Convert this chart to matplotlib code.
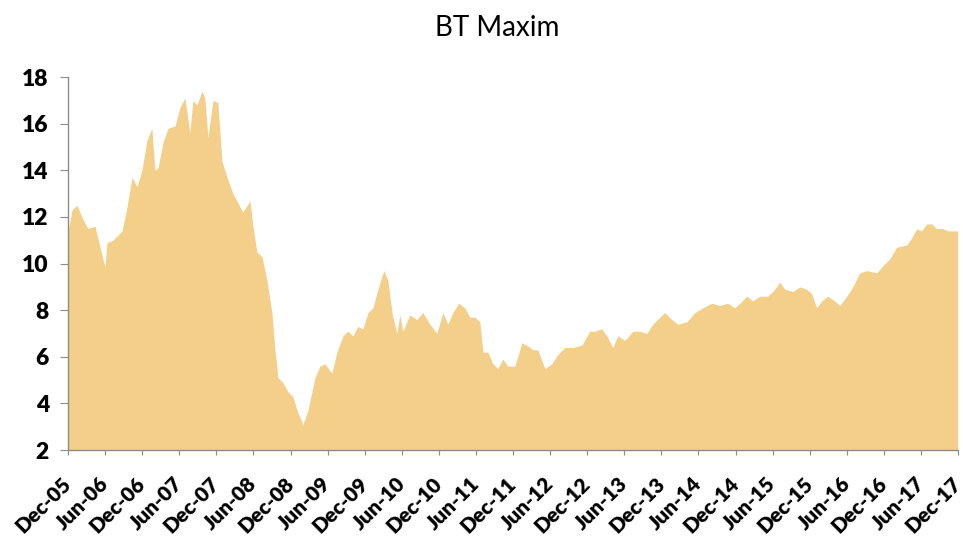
import matplotlib

matplotlib.use("Agg")
import matplotlib.dates as mdates
import matplotlib.pyplot as plt
import pandas as pd

plt.rcParams["font.family"] = ["Lato", "DejaVu Sans"]

# share price, roughly every few weeks
dates = [
    "2005-12-01", "2005-12-21", "2006-01-14", "2006-02-13", "2006-03-09", "2006-04-13",
    "2006-05-08", "2006-06-01", "2006-06-11", "2006-07-10", "2006-08-24", "2006-09-17",
    "2006-10-12", "2006-11-06", "2006-11-30", "2006-12-25", "2007-01-18", "2007-02-02",
    "2007-02-17", "2007-03-14", "2007-04-07", "2007-05-12", "2007-06-05", "2007-06-30",
    "2007-07-24", "2007-08-08", "2007-08-28", "2007-09-22", "2007-10-06", "2007-10-21",
    "2007-11-15", "2007-12-09", "2007-12-29", "2008-01-23", "2008-02-21", "2008-03-17",
    "2008-04-10", "2008-05-15", "2008-05-30", "2008-06-18", "2008-07-13", "2008-08-06",
    "2008-08-31", "2008-09-15", "2008-09-30", "2008-10-24", "2008-11-18", "2008-12-12",
    "2009-01-06", "2009-01-31", "2009-02-24", "2009-03-31", "2009-04-24", "2009-05-19",
    "2009-06-13", "2009-06-22", "2009-07-17", "2009-08-16", "2009-09-09", "2009-10-04",
    "2009-10-28", "2009-11-22", "2009-12-17", "2010-01-10", "2010-02-04", "2010-03-05",
    "2010-03-25", "2010-04-14", "2010-05-08", "2010-05-23", "2010-06-07", "2010-07-11",
    "2010-08-15", "2010-09-13", "2010-10-18", "2010-11-21", "2010-12-21", "2011-01-14",
    "2011-02-08", "2011-03-09", "2011-04-08", "2011-05-03", "2011-05-27", "2011-06-21",
    "2011-07-06", "2011-07-30", "2011-08-24", "2011-09-17", "2011-10-12", "2011-11-06",
    "2011-12-10", "2012-01-14", "2012-02-07", "2012-03-08", "2012-04-01", "2012-05-06",
    "2012-06-09", "2012-07-09", "2012-08-12", "2012-09-21", "2012-11-04", "2012-12-13",
    "2013-01-07", "2013-02-10", "2013-03-07", "2013-04-05", "2013-04-30", "2013-06-04",
    "2013-07-13", "2013-08-16", "2013-09-20", "2013-10-19", "2013-12-17", "2014-01-21",
    "2014-02-19", "2014-04-05", "2014-05-14", "2014-06-22", "2014-08-06", "2014-09-14",
    "2014-10-23", "2014-11-27", "2014-12-22", "2015-01-25", "2015-02-24", "2015-03-30",
    "2015-05-08", "2015-06-12", "2015-07-06", "2015-07-31", "2015-09-08", "2015-10-13",
    "2015-11-16", "2015-12-11", "2016-01-04", "2016-01-29", "2016-02-28", "2016-04-02",
    "2016-04-27", "2016-05-31", "2016-06-30", "2016-08-03", "2016-09-07", "2016-10-26",
    "2016-11-24", "2016-12-29", "2017-02-01", "2017-03-23", "2017-04-16", "2017-05-11",
    "2017-06-04", "2017-06-29", "2017-07-24", "2017-08-17", "2017-09-16", "2017-10-10",
    "2017-11-04", "2017-11-28",
]
price = [
    11.4, 12.3, 12.5, 11.9, 11.5, 11.6,
    10.7, 9.85, 10.9, 11.0, 11.4, 12.4,
    13.7, 13.3, 14.0, 15.3, 15.8, 14.0,
    14.1, 15.2, 15.8, 15.9, 16.7, 17.1,
    15.6, 17.0, 16.8, 17.4, 17.1, 15.4,
    17.0, 16.9, 14.4, 13.7, 13.0, 12.6,
    12.2, 12.7, 11.6, 10.5, 10.3, 9.3,
    7.9, 6.3, 5.1, 4.9, 4.5, 4.3,
    3.6, 3.1, 3.7, 5.1, 5.6, 5.7,
    5.4, 5.3, 6.2, 6.9, 7.1, 6.9,
    7.3, 7.2, 7.9, 8.1, 8.9, 9.7,
    9.3, 7.9, 7.0, 7.8, 7.1, 7.8,
    7.6, 7.9, 7.4, 7.0, 7.9, 7.4,
    7.9, 8.3, 8.1, 7.7, 7.7, 7.5,
    6.2, 6.2, 5.7, 5.5, 5.9, 5.6,
    5.6, 6.6, 6.5, 6.3, 6.3, 5.5,
    5.7, 6.1, 6.4, 6.4, 6.5, 7.1,
    7.1, 7.2, 6.9, 6.4, 6.9, 6.7,
    7.1, 7.1, 7.0, 7.4, 7.9, 7.6,
    7.4, 7.5, 7.9, 8.1, 8.3, 8.2,
    8.3, 8.1, 8.3, 8.6, 8.4, 8.6,
    8.6, 8.9, 9.2, 8.9, 8.8, 9.0,
    8.9, 8.7, 8.1, 8.4, 8.6, 8.4,
    8.2, 8.6, 9.0, 9.6, 9.7, 9.6,
    9.9, 10.2, 10.7, 10.8, 11.1, 11.5,
    11.4, 11.7, 11.7, 11.5, 11.5, 11.4,
    11.4, 11.4,
]
yticks = [2, 4, 6, 8, 10, 12, 14, 16, 18]

x = pd.to_datetime(dates)
fig = plt.figure(figsize=(9.63, 5.39), dpi=100)
ax = fig.add_axes([0.0706, 0.165, 0.9244, 0.692])

ax.fill_between(x, 0, price, color="#F3CF8A", lw=0)
ax.set_xlim(pd.Timestamp("2005-12-01"), pd.Timestamp("2017-12-01"))
ax.set_ylim(2, 18)
ax.set_yticks(yticks)

ticks = pd.date_range("2005-12-01", "2017-12-01", freq="6MS")
ax.set_xticks(ticks)
ax.xaxis.set_major_formatter(mdates.DateFormatter("%b-%y"))

for s in ("top", "right"):
    ax.spines[s].set_visible(False)
for s in ("left", "bottom"):
    ax.spines[s].set_color("#8c8c8c")
    ax.spines[s].set_linewidth(1.0)
ax.tick_params(axis="y", length=5.8, color="#8c8c8c", labelsize=16.5, pad=8)
ax.tick_params(axis="x", length=3.6, color="#8c8c8c", labelsize=15, pad=18)
for lab in ax.get_yticklabels():
    lab.set_fontweight("heavy")
for lab in ax.get_xticklabels():
    lab.set_fontweight("heavy")
    lab.set_rotation(45)
    lab.set_ha("right")
    lab.set_va("center")
    lab.set_rotation_mode("anchor")

fig.text(0.516, 0.948, "BT Maxim", ha="center", va="center", fontsize=20)

fig.savefig("out.png", dpi=100)
